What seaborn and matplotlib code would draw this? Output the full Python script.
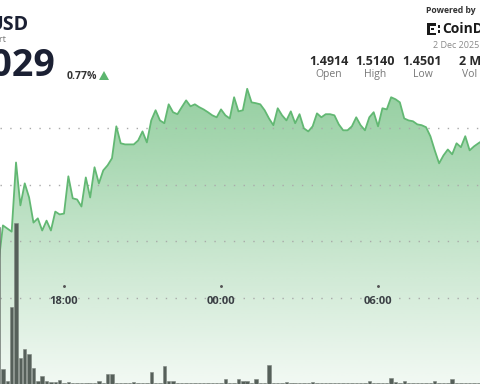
import numpy as np
import matplotlib
matplotlib.use("Agg")
import matplotlib.pyplot as plt
import matplotlib.transforms as mtransforms
from matplotlib.patches import Polygon, Rectangle
import seaborn as sns

# ---------------- data ----------------
# 10-minute samples starting 15:30 (hours relative to 18:00)
start_offset_h = -2.5
step_h = 10 / 60

price = [
    1.4524, 1.4656, 1.4645, 1.4634, 1.4879, 1.4727, 1.4805, 1.4755, 1.4666, 1.4681,
    1.4638, 1.4673, 1.4638, 1.4705, 1.4695, 1.4698, 1.4830, 1.4752, 1.4748, 1.4723,
    1.4826, 1.4755, 1.4862, 1.4805, 1.4851, 1.4869, 1.4894, 1.5007, 1.4947, 1.4943,
    1.4943, 1.4943, 1.4957, 1.4989, 1.4950, 1.5028, 1.5064, 1.5028, 1.5018, 1.5085,
    1.5057, 1.5050, 1.5075, 1.5099, 1.5078, 1.5085, 1.5075, 1.5067, 1.5057, 1.5046,
    1.5039, 1.5067, 1.5046, 1.5035, 1.5110, 1.5060, 1.5064, 1.5140, 1.5092, 1.5089,
    1.5085, 1.5064, 1.5035, 1.5011, 1.5071, 1.5046, 1.5028, 1.5060, 1.5018, 1.5050,
    1.5000, 1.4989, 1.5007, 1.5053, 1.5039, 1.5050, 1.5050, 1.5046, 1.5014, 1.4993,
    1.4993, 1.5007, 1.5039, 1.5011, 1.4993, 1.5039, 1.5057, 1.5007, 1.5071, 1.5067,
    1.5110, 1.5103, 1.5092, 1.5035, 1.5028, 1.5025, 1.5014, 1.5011, 1.5004, 1.4972,
    1.4922, 1.4876, 1.4904, 1.4925, 1.4908, 1.4947, 1.4933, 1.4972, 1.4922, 1.4936,
    1.4947, 1.4957,
]

volume = [
    157, 15, 3, 77, 161, 26, 35, 30, 16, 3,
    8, 3, 2, 2, 4, 1, 2, 1, 1, 1,
    1, 1, 1, 3, 1, 10, 10, 1, 1, 1,
    1, 2, 1, 1, 1, 12, 1, 1, 18, 3,
    3, 1, 1, 1, 1, 1, 1, 1, 1, 1,
    1, 1, 5, 1, 1, 5, 3, 3, 1, 5,
    1, 1, 19, 1, 1, 1, 2, 1, 1, 1,
    1, 1, 2, 1, 1, 1, 1, 1, 1, 1,
    1, 1, 1, 1, 1, 3, 1, 1, 1, 1,
    6, 2, 1, 3, 1, 1, 1, 1, 1, 1,
    3, 1, 1, 1, 5, 1, 1, 1, 1, 1,
    1, 1,
]

time_ticks = [0, 6, 12]
time_labels = ["18:00", "00:00", "06:00"]
grid_levels = [1.44, 1.46, 1.48, 1.50]

header_title = "USD"
header_sub = "Price Chart"
last_price = "1.5029"
change_pct = "0.77%"
stat_values = ["1.4914", "1.5140", "1.4501", "2 M"]
stat_names = ["Open", "High", "Low", "Vol"]
date_text = "2 Dec 2025"

hours = start_offset_h + step_h * np.arange(len(price))

# ---------------- figure ----------------
W, H = 480, 384
sns.set_theme(style="white")
plt.rcParams["font.family"] = ["Open Sans", "DejaVu Sans"]

fig = plt.figure(figsize=(W / 100, H / 100), dpi=100)
fig.patch.set_facecolor("white")
ax = fig.add_axes([0, 0, 1, 1])
ax.set_facecolor("white")

xmin, xmax = -64 / 26.17, (480 - 64) / 26.17
ymin, ymax = 1.40943, 1.54545
ax.set_xlim(xmin, xmax)
ax.set_ylim(ymin, ymax)

green = "#5cb56e"
line_green = "#62b873"

# gradient fill under line
poly = ax.fill_between(hours, price, ymin, facecolor="none", edgecolor="none")
grad_n = 256
alpha_top, alpha_bot = 0.66, 0.08
grad = np.zeros((grad_n, 1, 4))
rgb = matplotlib.colors.to_rgb(green)
grad[:, 0, :3] = rgb
grad[:, 0, 3] = np.linspace(alpha_top, alpha_bot, grad_n)
im = ax.imshow(grad, extent=[xmin, xmax, ymin, 1.515], origin="upper",
               aspect="auto", zorder=1, interpolation="bilinear")
clip_path = poly.get_paths()[0]
im.set_clip_path(clip_path, transform=ax.transData)
ax.set_xlim(xmin, xmax)
ax.set_ylim(ymin, ymax)

# dotted grid
for lv in grid_levels:
    ax.axhline(lv, color="#a9a9a9", linewidth=1.0, linestyle=(0, (1, 6)), zorder=2)

# price line
sns.lineplot(x=hours, y=price, ax=ax, color=line_green, linewidth=1.3, zorder=3)

# time labels
trans = mtransforms.blended_transform_factory(ax.transData, fig.transFigure)
for t, lab in zip(time_ticks, time_labels):
    ax.text(t, 1 - 301.5 / H, lab, transform=trans, ha="center", va="center",
            fontsize=8, fontweight="bold", color="#3a3f44", zorder=4)
    ax.scatter([t], [1 - 285.8 / H], transform=trans, s=1.2, color="#555555", zorder=4)

ax.set_xticks([])
ax.set_yticks([])
for s in ax.spines.values():
    s.set_visible(False)

# volume bars
ax2 = ax.twinx()
sns.barplot(x=hours, y=volume, ax=ax2, native_scale=True, width=0.78,
            color="#56605a", saturation=1, edgecolor="#7d857f", linewidth=0.4,
            errorbar=None, zorder=5)
ax2.set_xlim(xmin, xmax)
ax2.set_ylim(0, H)
ax2.set_axis_off()
ax.set_axis_off()

# ---------------- header texts ----------------
def fx(px):
    return px / W

def fy(py):
    return 1 - py / H

fig.text(fx(-12), fy(25), header_title, ha="left", va="center", fontsize=14,
         fontweight="bold", color="#1b2033")
fig.text(fx(6), fy(39), header_sub, ha="right", va="center", fontsize=6.5,
         color="#777777")
fig.text(fx(56), fy(66.5), last_price, ha="right", va="center", fontsize=27,
         fontweight="bold", color="#1b2033")
fig.text(fx(67), fy(76.5), change_pct, ha="left", va="center", fontsize=7.5,
         fontweight="bold", color="#333333")
tri = Polygon([[fx(99), fy(80)], [fx(109), fy(80)], [fx(104), fy(71)]],
              closed=True, transform=fig.transFigure, facecolor=green,
              edgecolor="none")
fig.patches.append(tri)

fig.text(fx(426), fy(10.5), "Powered by", ha="left", va="center", fontsize=6.2,
         fontweight="bold", color="#333333")
# logo blocks
for (bx, by, bw, bh) in [(427, 23, 9, 2.5), (427, 23, 2.5, 12), (427, 32.5, 9, 2.5),
                         (431, 27.5, 2.5, 2.5), (437.5, 25.5, 2, 2), (437.5, 30.5, 2, 2)]:
    fig.patches.append(Rectangle((fx(bx), fy(by + bh)), bw / W, bh / H,
                                 transform=fig.transFigure, facecolor="#1a1a1a",
                                 edgecolor="none"))
fig.text(fx(442), fy(29), "CoinDesk", ha="left", va="center", fontsize=10,
         fontweight="bold", color="#1a1a1a")
fig.text(fx(433), fy(45), date_text, ha="left", va="center", fontsize=6.5,
         color="#8a8a8a")

stat_cx = [328.5, 375, 422.5, 470]
for cx, v, n in zip(stat_cx, stat_values, stat_names):
    fig.text(fx(cx), fy(61.5), v, ha="center", va="center", fontsize=9,
             fontweight="bold", color="#2a2a2a")
    fig.text(fx(cx), fy(74.5), n, ha="center", va="center", fontsize=7.5,
             color="#777777")

fig.savefig("out.png", dpi=100, facecolor="white")
